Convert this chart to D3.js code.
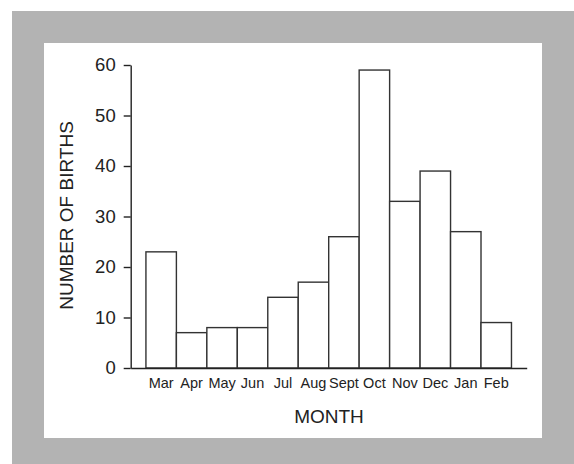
<!DOCTYPE html>
<html>
<head>
<meta charset="utf-8">
<script src="https://cdn.jsdelivr.net/npm/d3@7"></script>
<style>
  body { margin: 0; background: #fff; overflow: hidden; }
  svg { display: block; }
  svg text { font-family: "Liberation Sans", Arial, sans-serif; fill: #222; }
</style>
</head>
<body>
<div id="chart"></div>
<script>
// values
var months = ["Mar", "Apr", "May", "Jun", "Jul", "Aug", "Sept", "Oct", "Nov", "Dec", "Jan", "Feb"];
var births = [23, 7, 8, 8, 14, 17, 26, 59, 33, 39, 27, 9];
var yTicks = [0, 10, 20, 30, 40, 50, 60];

var svgWidth = 574;
var svgHeight = 464;

var svg = d3.select("#chart")
  .append("svg")
  .attr("width", svgWidth)
  .attr("height", svgHeight);

// grey frame and white panel
svg.append("rect")
  .attr("x", 12).attr("y", 11)
  .attr("width", 562).attr("height", 453)
  .attr("fill", "#b3b3b3");
svg.append("rect")
  .attr("x", 44).attr("y", 43)
  .attr("width", 498).attr("height", 395)
  .attr("fill", "#fff");

// plot area edges
var plotLeft = 130.7, plotRight = 526.7, plotTop = 65, plotBottom = 368;

var xScale = d3.scaleBand()
  .domain(months)
  .range([plotLeft, plotRight])
  .paddingInner(0)
  .paddingOuter(0.5);

var yScale = d3.scaleLinear()
  .domain([0, 60])
  .range([plotBottom, plotTop]);

// bars
svg.selectAll(".bar")
  .data(months)
  .enter()
  .append("rect")
  .attr("class", "bar")
  .attr("x", d => xScale(d))
  .attr("y", (d, i) => yScale(births[i]))
  .attr("width", xScale.bandwidth())
  .attr("height", (d, i) => yScale(0) - yScale(births[i]))
  .attr("fill", "#fff")
  .attr("stroke", "#333")
  .attr("stroke-width", 1.4);

// y axis
var leftAxis = d3.axisLeft(yScale)
  .tickValues(yTicks)
  .tickSize(7)
  .tickPadding(8)
  .tickSizeOuter(0);

var yAxis = svg.append("g")
  .attr("transform", `translate(${plotLeft}, 0)`)
  .call(leftAxis);
yAxis.select(".domain").attr("stroke", "#222").attr("stroke-width", 1.4);
yAxis.selectAll(".tick line").attr("stroke", "#222").attr("stroke-width", 1.4);
yAxis.selectAll(".tick text")
  .attr("font-size", "18.5px")
  .attr("font-family", "Liberation Sans, Arial, sans-serif")
  .attr("fill", "#222");

// x axis
var bottomAxis = d3.axisBottom(xScale)
  .tickSize(0)
  .tickSizeOuter(0)
  .tickPadding(10);

var xAxis = svg.append("g")
  .attr("transform", `translate(0, ${plotBottom})`)
  .call(bottomAxis);
xAxis.select(".domain").attr("stroke", "#222").attr("stroke-width", 1.4);
xAxis.selectAll(".tick text")
  .attr("font-size", "14.5px")
  .attr("font-family", "Liberation Sans, Arial, sans-serif")
  .attr("fill", "#222");

// axis titles
svg.append("text")
  .attr("x", 329)
  .attr("y", 423)
  .attr("text-anchor", "middle")
  .attr("font-size", "19px")
  .text("MONTH");

svg.append("text")
  .attr("transform", "translate(73, 215.5) rotate(-90)")
  .attr("text-anchor", "middle")
  .attr("font-size", "19px")
  .text("NUMBER OF BIRTHS");
</script>
</body>
</html>
